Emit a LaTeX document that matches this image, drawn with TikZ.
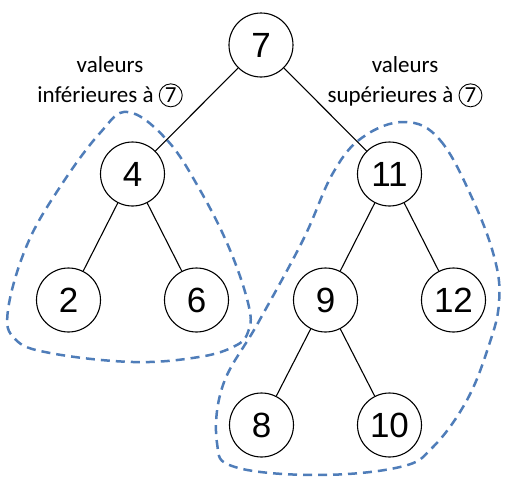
\documentclass[tikz,border=0pt]{standalone}
\usepackage{fontspec}
\setmainfont{Liberation Sans}
\newfontfamily\carlito{Carlito}
\usepackage{tikz}

\definecolor{bleu}{RGB}{79,125,185}
\newcommand\rond[1]{\tikz[baseline=(r.base)]\node[draw,circle,inner sep=1.5pt,line width=0.9pt](r){#1};}

\begin{document}
\begin{tikzpicture}[
        level 1/.style={level distance=129pt,sibling distance=257pt},
        level 2/.style={level distance=126pt,sibling distance=128pt},
        level 3/.style={level distance=125pt,sibling distance=128pt},
        noeud/.style={draw,circle,line width=1.1pt,minimum size=64pt,inner sep=0pt,font=\fontsize{35}{35}\selectfont},
        every child node/.style={noeud},
        edge from parent/.style={draw,line width=1.1pt},
        valeurs/.style={align=center,font=\carlito\fontsize{23}{30}\selectfont},
        zone/.style={draw=bleu,line width=2.5pt,dash pattern=on 9pt off 6pt}]

    \useasboundingbox (-261pt,45pt) rectangle (259pt,-435pt);

    \draw[zone] plot[smooth cycle,tension=0.65] coordinates {
        (-133pt,-67pt) (-94pt,-95pt) (-61pt,-145pt) (-31pt,-205pt) (-12pt,-262pt)
        (-13pt,-287pt) (-26pt,-301pt) (-62pt,-312pt) (-128pt,-317pt) (-211pt,-308pt) (-246pt,-294pt)
        (-253pt,-265pt) (-234pt,-200pt) (-201pt,-142pt) (-161pt,-88pt)};
    \draw[zone] plot[smooth cycle,tension=0.65] coordinates {
        (144pt,-77pt) (179pt,-95pt) (212pt,-155pt) (234pt,-215pt) (238pt,-258pt)
        (228pt,-300pt) (206pt,-355pt) (172pt,-402pt) (139pt,-422pt) (56pt,-430pt)
        (-26pt,-422pt) (-44pt,-398pt) (-38pt,-340pt) (-3pt,-278pt) (42pt,-195pt)
        (72pt,-128pt) (102pt,-92pt)};

    \node[noeud] (n7) {7}
    child   {
            node (n4) {4}
            child   {node (n2) {2}}
            child   {node (n6) {6}}
        }
    child   {
            node (n11) {11}
            child   {
                    node (n9) {9}
                    child   {node (n8) {8}}
                    child   {node (n10) {10}}
                }
            child   {node (n12) {12}}
        };

    \node[valeurs] (inf) at (-151pt,-37pt) {valeurs\\inférieures à \rond{7}};
    \node[valeurs] (sup) at (144pt,-37pt) {valeurs\\supérieures à \rond{7}};
\end{tikzpicture}
\end{document}
